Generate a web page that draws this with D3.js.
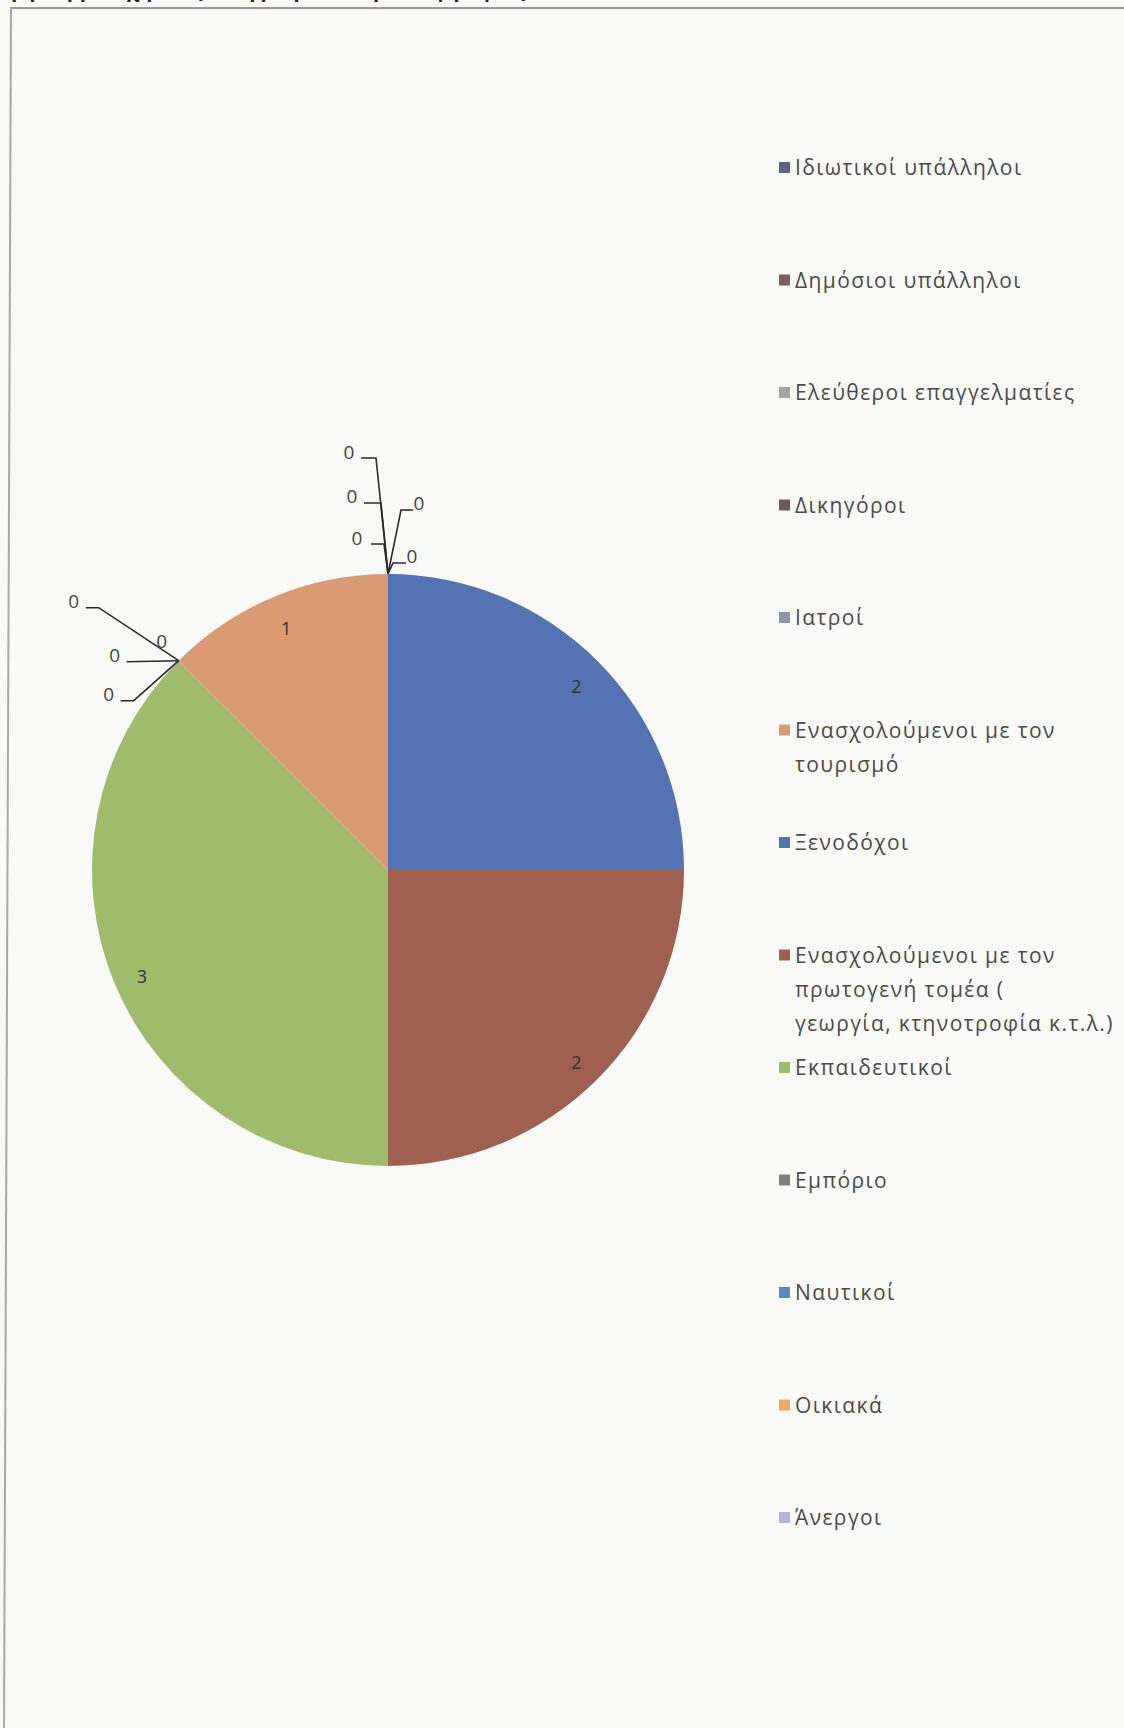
<!DOCTYPE html>
<html>
<head>
<meta charset="utf-8">
<script src="https://cdn.jsdelivr.net/npm/d3@7"></script>
<style>
  html, body { margin: 0; padding: 0; background: #f9faf8; }
  svg { display: block; }
  text { font-family: "Open Sans", "Noto Sans", sans-serif; }
</style>
</head>
<body>
<svg id="chart" width="1124" height="1728"></svg>
<script>
// ---- data ----
const categories = [
  "Ιδιωτικοί υπάλληλοι",
  "Δημόσιοι υπάλληλοι",
  "Ελεύθεροι επαγγελματίες",
  "Δικηγόροι",
  "Ιατροί",
  "Ενασχολούμενοι με τον τουρισμό",
  "Ξενοδόχοι",
  "Ενασχολούμενοι με τον πρωτογενή τομέα ( γεωργία, κτηνοτροφία κ.τ.λ.)",
  "Εκπαιδευτικοί",
  "Εμπόριο",
  "Ναυτικοί",
  "Οικιακά",
  "Άνεργοι"
];
const legendLines = [
  ["Ιδιωτικοί υπάλληλοι"],
  ["Δημόσιοι υπάλληλοι"],
  ["Ελεύθεροι επαγγελματίες"],
  ["Δικηγόροι"],
  ["Ιατροί"],
  ["Ενασχολούμενοι με τον", "τουρισμό"],
  ["Ξενοδόχοι"],
  ["Ενασχολούμενοι με τον", "πρωτογενή τομέα (", "γεωργία, κτηνοτροφία κ.τ.λ.)"],
  ["Εκπαιδευτικοί"],
  ["Εμπόριο"],
  ["Ναυτικοί"],
  ["Οικιακά"],
  ["Άνεργοι"]
];
const values = [0, 0, 0, 0, 0, 1, 2, 2, 3, 0, 0, 0, 0];
const colors = ["#5b6583", "#7d5f5c", "#a3a69c", "#6d5a5e", "#8c96a8", "#da9a72",
                "#5473b2", "#a0604f", "#9fbb6c", "#7f7f7f", "#5b86c4", "#f0a860", "#b0b8d4"];
// order in which slices are laid out clockwise from 12 o'clock (indices into categories)
const sliceOrder = [0, 1, 2, 3, 4, 6, 7, 8, 9, 10, 11, 12, 5];

// ---- layout (styles / positions) ----
const W = 1124, H = 1728;
const cx = 388, cy = 870, R = 296;
const svg = d3.select("#chart");

svg.append("rect").attr("width", W).attr("height", H).attr("fill", "#f9faf8");

// frame lines of the scanned page
svg.append("line").attr("x1", 10).attr("y1", 8).attr("x2", W).attr("y2", 8)
  .attr("stroke", "#9a9a9a").attr("stroke-width", 2);
svg.append("line").attr("x1", 11).attr("y1", 8).attr("x2", 4).attr("y2", H)
  .attr("stroke", "#a8a8a8").attr("stroke-width", 2);
// cut-off caption at the very top of the scan
svg.append("text").attr("x", 4).attr("y", -3).attr("font-size", 20).attr("font-weight", "bold")
  .attr("fill", "#222").text("ή η συμμετοχή τους επαγγελματιών μέσω φ ραφίας");

const g = svg.append("g").attr("transform", `translate(${cx},${cy})`);

const ordered = sliceOrder.map(i => ({ idx: i, value: values[i] }));
const pie = d3.pie().sort(null).value(d => d.value).startAngle(0).endAngle(2 * Math.PI);
const arcs = pie(ordered);
const arc = d3.arc().innerRadius(0).outerRadius(R);

g.selectAll("path.slice").data(arcs.filter(a => a.data.value > 0)).join("path")
  .attr("class", "slice")
  .attr("d", arc)
  .attr("fill", d => colors[d.data.idx]);

// labels of non-zero slices
const labelArc = d3.arc().innerRadius(R * 0.9).outerRadius(R * 0.9);
g.selectAll("text.vlab").data(arcs.filter(a => a.data.value > 0)).join("text")
  .attr("class", "vlab")
  .attr("x", d => labelArc.centroid(d)[0])
  .attr("y", d => labelArc.centroid(d)[1] + 4)
  .attr("text-anchor", "middle").attr("dominant-baseline", "central")
  .attr("font-size", 18).attr("fill", "#333")
  .text(d => d.data.value);

// zero-value labels with leader lines, stacked around the point where they sit
const zeroSlots = {
  top: [
    { t: [-39, -122], s: [-27, -116], e: [-12, -116] },
    { t: [-36, -78],  s: [-24, -71],  e: [-7, -71] },
    { t: [-31, -36],  s: [-17, -30],  e: [-4, -30] },
    { t: [31, -71],   s: [25, -64],   e: [13, -64] },
    { t: [24, -18],   s: [18, -11],   e: [5, -11] }
  ],
  side: [
    { t: [-105, -60], s: [-93, -53], e: [-80, -53] },
    { t: [-17, -20],  s: null,       e: null },
    { t: [-64, -6],   s: [-52, 1],   e: [-52, 1] },
    { t: [-70, 33],   s: [-58, 40],  e: [-45, 40] }
  ]
};
const zeros = arcs.filter(a => a.data.value === 0);
const groups = d3.groups(zeros, a => a.startAngle.toFixed(4));
groups.forEach(([key, items]) => {
  const ang = +key;
  const p = d3.pointRadial(ang, R);
  const slots = items.length >= 5 ? zeroSlots.top : zeroSlots.side;
  items.forEach((a, k) => {
    const sl = slots[k % slots.length];
    if (sl.s) {
      g.append("path")
        .attr("d", d3.line()([[p[0] + sl.s[0], p[1] + sl.s[1]], [p[0] + sl.e[0], p[1] + sl.e[1]], p]))
        .attr("fill", "none").attr("stroke", "#2a2a2a").attr("stroke-width", 1.6);
    }
    g.append("text")
      .attr("x", p[0] + sl.t[0]).attr("y", p[1] + sl.t[1])
      .attr("text-anchor", "middle").attr("dominant-baseline", "central")
      .attr("font-size", 19).attr("fill", "#444")
      .text(a.data.value);
  });
});

// legend
const legendY = d3.scaleLinear().domain([0, categories.length - 1]).range([168, 1518]);
const lg = svg.append("g");
const items = lg.selectAll("g.item").data(categories.map((c, i) => ({ c, i }))).join("g")
  .attr("class", "item")
  .attr("transform", d => `translate(779,${legendY(d.i)})`);
items.append("rect").attr("x", 0).attr("y", -6).attr("width", 11).attr("height", 11)
  .attr("fill", d => colors[d.i]);
items.each(function(d) {
  const t = d3.select(this).append("text")
    .attr("x", 16).attr("y", 0)
    .attr("font-size", 21).attr("letter-spacing", "1.4px").attr("fill", "#4a4a4a");
  legendLines[d.i].forEach((ln, j) => {
    t.append("tspan").attr("x", 16).attr("y", j * 34).attr("dy", "0.35em").text(ln);
  });
});
</script>
</body>
</html>
